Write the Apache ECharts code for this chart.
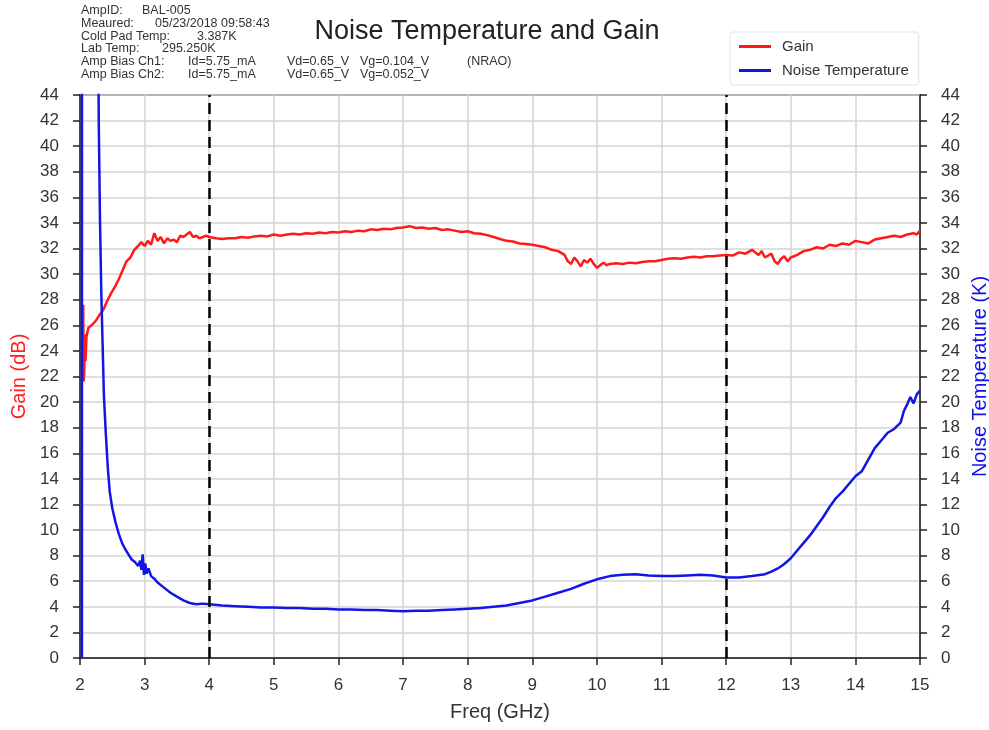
<!doctype html>
<html>
<head>
<meta charset="utf-8">
<title>Noise Temperature and Gain</title>
<style>
  html, body { margin: 0; padding: 0; background: #fff; }
  #chart { width: 989px; height: 730px; }
</style>
</head>
<body>
<div id="chart"></div>
<script src="https://cdn.jsdelivr.net/npm/echarts@6/dist/echarts.min.js"></script>
<script>
// ---- data ----
var freqTicks = [2, 3, 4, 5, 6, 7, 8, 9, 10, 11, 12, 13, 14, 15];
var markerFreqs = [4, 12];

// Gain (dB) vs freq (GHz)
var gainData = [
  [2.05,27.6],[2.055,21.6],[2.065,22.2],[2.075,25.3],[2.085,23.2],[2.1,25.1],[2.13,25.8],[2.16,25.9],
  [2.2,26.1],[2.25,26.4],[2.3,26.8],[2.36,27.2],[2.42,27.9],[2.48,28.5],[2.54,29.0],[2.6,29.6],
  [2.66,30.3],[2.72,31.0],[2.78,31.3],[2.84,31.9],[2.9,32.2],[2.95,32.5],[3.0,32.2],[3.05,32.6],
  [3.1,32.3],[3.15,33.2],[3.2,32.6],[3.25,32.9],[3.3,32.4],[3.35,32.8],[3.4,32.6],[3.45,32.7],
  [3.5,32.5],[3.55,33.0],[3.6,32.9],[3.65,33.1],[3.7,33.3],[3.75,32.9],[3.8,33.0],[3.85,32.8],
  [3.9,32.9],[3.95,33.0],[4.0,32.9],[4.1,32.8],[4.2,32.75],[4.3,32.8],[4.4,32.8],[4.5,32.9],
  [4.6,32.85],[4.7,32.95],[4.8,33.0],[4.9,32.95],[5.0,33.1],[5.1,33.0],[5.2,33.1],[5.3,33.15],
  [5.4,33.1],[5.5,33.2],[5.6,33.15],[5.7,33.25],[5.8,33.2],[5.9,33.3],[6.0,33.25],[6.1,33.35],
  [6.2,33.3],[6.3,33.4],[6.4,33.35],[6.5,33.5],[6.6,33.45],[6.7,33.55],[6.8,33.5],[6.9,33.6],
  [7.0,33.65],[7.1,33.75],[7.2,33.6],[7.3,33.65],[7.4,33.55],[7.5,33.6],[7.6,33.45],[7.7,33.5],
  [7.8,33.4],[7.9,33.3],[8.0,33.35],[8.1,33.2],[8.2,33.15],[8.3,33.05],[8.4,32.9],[8.5,32.75],
  [8.6,32.6],[8.7,32.55],[8.8,32.4],[8.9,32.35],[9.0,32.3],[9.1,32.2],[9.2,32.1],[9.3,31.9],
  [9.4,31.8],[9.5,31.5],[9.55,31.0],[9.6,30.8],[9.65,31.3],[9.7,31.0],[9.75,30.6],[9.8,31.1],
  [9.85,30.9],[9.9,31.2],[9.95,30.8],[10.0,30.5],[10.05,30.7],[10.1,30.9],[10.15,30.7],[10.2,30.8],
  [10.3,30.85],[10.4,30.8],[10.5,30.9],[10.6,30.85],[10.7,30.95],[10.8,31.0],[10.9,31.0],[11.0,31.1],
  [11.1,31.2],[11.2,31.25],[11.3,31.2],[11.4,31.3],[11.5,31.35],[11.6,31.3],[11.7,31.4],[11.8,31.4],
  [11.9,31.45],[12.0,31.5],[12.1,31.45],[12.2,31.7],[12.3,31.6],[12.4,31.9],[12.5,31.5],[12.55,31.8],
  [12.6,31.3],[12.7,31.6],[12.75,31.0],[12.8,30.8],[12.85,31.2],[12.9,31.4],[12.95,31.0],[13.0,31.3],
  [13.1,31.5],[13.2,31.8],[13.3,31.9],[13.4,32.1],[13.5,32.0],[13.6,32.3],[13.7,32.2],[13.8,32.4],
  [13.9,32.3],[14.0,32.6],[14.1,32.5],[14.2,32.4],[14.3,32.7],[14.4,32.8],[14.5,32.9],[14.6,33.0],
  [14.7,32.9],[14.8,33.1],[14.9,33.2],[14.95,33.1],[15.0,33.4]
];

// Noise temperature (K) vs freq (GHz)
var noiseData = [
  [2.03,0],[2.031,60],[2.27,60],[2.29,42],[2.31,34],[2.33,28.5],[2.35,24.5],[2.37,20.5],[2.4,17.5],
  [2.43,14.9],[2.46,13.0],[2.5,11.7],[2.55,10.6],[2.6,9.7],[2.65,9.0],[2.7,8.5],[2.75,8.1],[2.8,7.7],
  [2.85,7.5],[2.9,7.2],[2.93,7.6],[2.95,6.9],[2.97,8.1],[2.99,6.5],[3.01,7.4],[3.03,6.6],[3.06,7.0],
  [3.1,6.4],[3.15,6.2],[3.2,5.9],[3.3,5.5],[3.4,5.1],[3.5,4.8],[3.6,4.5],[3.7,4.3],[3.8,4.2],
  [3.9,4.25],[4.0,4.2],[4.2,4.1],[4.4,4.05],[4.6,4.0],[4.8,3.95],[5.0,3.95],[5.2,3.9],[5.4,3.9],
  [5.6,3.85],[5.8,3.85],[6.0,3.8],[6.2,3.8],[6.4,3.75],[6.6,3.75],[6.8,3.7],[7.0,3.65],[7.2,3.7],
  [7.4,3.7],[7.6,3.75],[7.8,3.8],[8.0,3.85],[8.2,3.9],[8.4,4.0],[8.6,4.1],[8.8,4.3],[9.0,4.5],
  [9.2,4.8],[9.4,5.1],[9.6,5.4],[9.8,5.8],[10.0,6.15],[10.2,6.4],[10.4,6.5],[10.6,6.55],[10.8,6.45],
  [11.0,6.4],[11.2,6.4],[11.4,6.45],[11.6,6.5],[11.8,6.45],[12.0,6.3],[12.2,6.3],[12.4,6.4],
  [12.6,6.55],[12.7,6.75],[12.8,7.0],[12.9,7.35],[13.0,7.8],[13.1,8.4],[13.2,9.0],[13.3,9.6],
  [13.4,10.3],[13.5,11.0],[13.6,11.8],[13.7,12.5],[13.8,13.0],[13.9,13.6],[14.0,14.2],[14.1,14.6],
  [14.2,15.5],[14.3,16.4],[14.4,17.0],[14.5,17.6],[14.6,17.9],[14.7,18.4],[14.75,19.3],[14.8,19.8],
  [14.85,20.4],[14.9,19.9],[14.95,20.6],[15.0,20.9]
];

// header info block (rows of columns)
var infoRows = [
  ['AmpID:', 'BAL-005'],
  ['Meaured:', '05/23/2018 09:58:43'],
  ['Cold Pad Temp:', '3.387K'],
  ['Lab Temp:', '295.250K'],
  ['Amp Bias Ch1:', 'Id=5.75_mA', 'Vd=0.65_V', 'Vg=0.104_V', '(NRAO)'],
  ['Amp Bias Ch2:', 'Id=5.75_mA', 'Vd=0.65_V', 'Vg=0.052_V']
];

// ---- layout ----
var FONT = '"Liberation Sans", Arial, sans-serif';
var infoX = [
  [81, 142], [81, 155], [81, 197], [81, 162],
  [81, 188, 287, 360, 467], [81, 188, 287, 360]
];
var graphics = [];
infoRows.forEach(function (row, i) {
  row.forEach(function (txt, j) {
    graphics.push({
      type: 'text', left: infoX[i][j], top: 4 + i * 12.8,
      style: { text: txt, font: '12.5px ' + FONT, fill: '#333' }
    });
  });
});
graphics.push({
  type: 'text', x: 487, y: 32,
  style: { text: 'Noise Temperature and Gain', font: '27px ' + FONT, fill: '#222',
           textAlign: 'center', textVerticalAlign: 'middle' }
});

var chart = echarts.init(document.getElementById('chart'));
var axisLabelStyle = { color: '#333', fontSize: 17, fontFamily: FONT };
var splitLine = { show: true, lineStyle: { color: '#d4d4d4', width: 1.5 } };

chart.setOption({
  backgroundColor: '#fff',
  animation: false,
  graphic: graphics,
  legend: {
    orient: 'vertical', left: 730, top: 32,
    data: ['Gain', 'Noise Temperature'],
    icon: 'rect', itemWidth: 32, itemHeight: 3, itemGap: 9,
    padding: [7, 10, 7, 9],
    borderColor: '#e2e2e2', borderWidth: 1, borderRadius: 3,
    textStyle: { color: '#333', fontSize: 15, fontFamily: FONT, padding: [0, 0, 0, 6] }
  },
  grid: {
    left: 80, right: 69, top: 95, bottom: 72,
    outerBoundsMode: 'none',
    show: true, borderColor: '#222', borderWidth: 1.5, backgroundColor: 'transparent'
  },
  xAxis: {
    type: 'value', min: 2, max: 15, interval: 1,
    name: 'Freq (GHz)', nameLocation: 'middle', nameGap: 44,
    nameTextStyle: { color: '#333', fontSize: 20, fontFamily: FONT },
    axisLine: { lineStyle: { color: '#222', width: 1.5 } },
    axisTick: { show: true, length: 7, lineStyle: { color: '#222', width: 1.5 } },
    axisLabel: Object.assign({ margin: 19 }, axisLabelStyle),
    splitLine: splitLine
  },
  yAxis: [
    {
      type: 'value', min: 0, max: 44, interval: 2, position: 'left',
      name: 'Gain (dB)', nameLocation: 'middle', nameGap: 46, nameRotate: 90,
      nameTextStyle: { color: '#ff2020', fontSize: 20, fontFamily: FONT },
      axisLine: { show: true, lineStyle: { color: '#222', width: 1.5 } },
      axisTick: { show: true, length: 7, lineStyle: { color: '#222', width: 1.5 } },
      axisLabel: Object.assign({ margin: 21 }, axisLabelStyle),
      splitLine: splitLine
    },
    {
      type: 'value', min: 0, max: 44, interval: 2, position: 'right',
      name: 'Noise Temperature (K)', nameLocation: 'middle', nameGap: 42, nameRotate: 90,
      nameTextStyle: { color: '#1010ee', fontSize: 20, fontFamily: FONT },
      axisLine: { show: true, lineStyle: { color: '#222', width: 1.5 } },
      axisTick: { show: true, length: 7, lineStyle: { color: '#222', width: 1.5 } },
      axisLabel: Object.assign({ margin: 21 }, axisLabelStyle),
      splitLine: { show: false }
    }
  ],
  series: [
    {
      name: 'Gain', type: 'line', yAxisIndex: 0, data: gainData,
      showSymbol: false, symbol: 'none',
      lineStyle: { color: '#ff1a1a', width: 2.5 }, itemStyle: { color: '#ff1a1a' }
    },
    {
      name: 'Noise Temperature', type: 'line', yAxisIndex: 1, data: noiseData,
      showSymbol: false, symbol: 'none',
      lineStyle: { color: '#1414e6', width: 2.5 }, itemStyle: { color: '#1414e6' },
      markLine: {
        silent: true, symbol: 'none', label: { show: false },
        lineStyle: { color: '#000', width: 2.5, type: [11, 6] },
        data: markerFreqs.map(function (f) { return { xAxis: f }; })
      }
    }
  ]
});
</script>
</body>
</html>
